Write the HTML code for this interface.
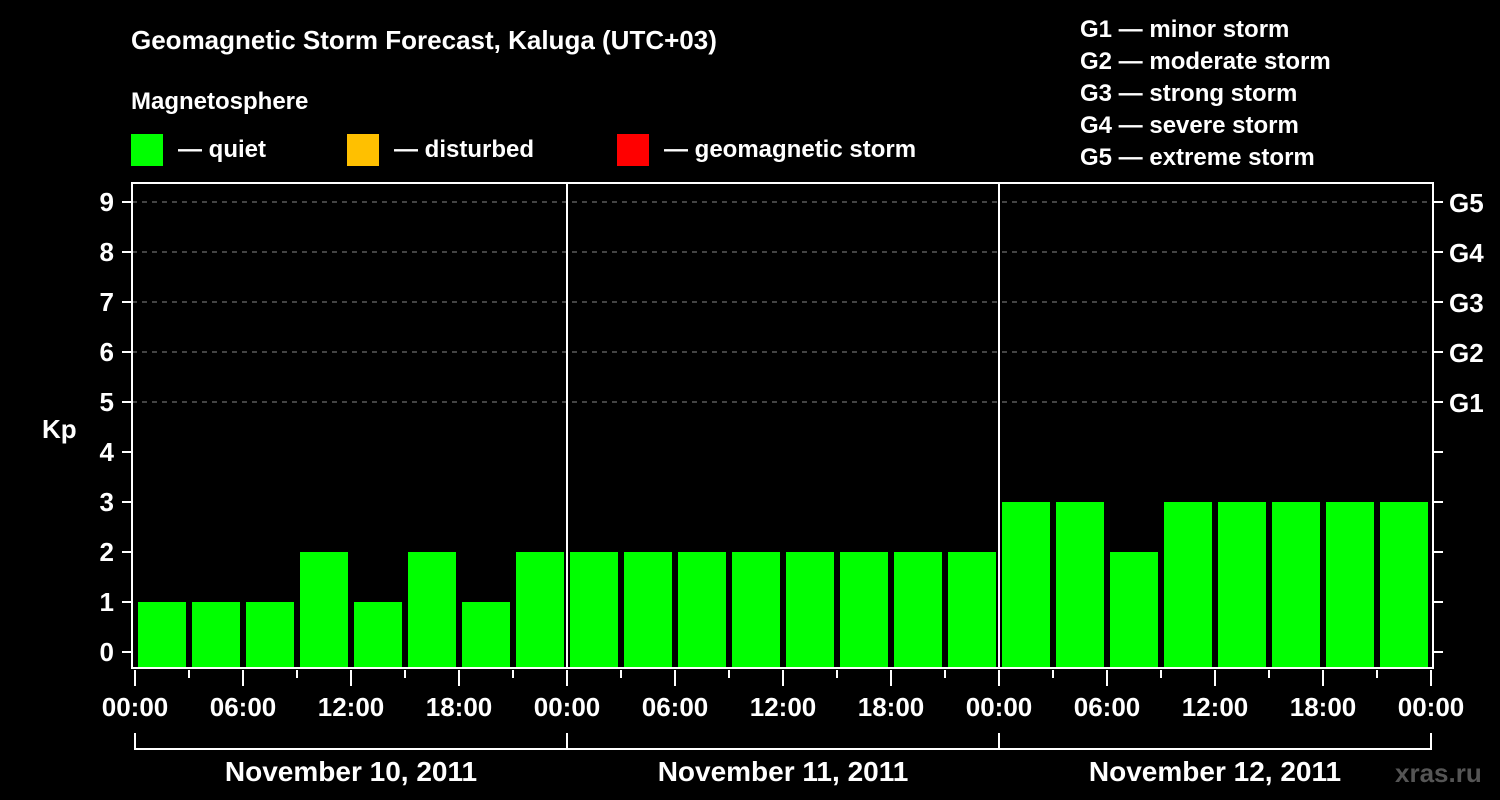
<!DOCTYPE html>
<html><head><meta charset="utf-8"><style>
html,body{margin:0;padding:0;background:#000;}
svg{display:block;font-family:"Liberation Sans",sans-serif;font-weight:bold;}
</style></head><body>
<svg id="chart" width="1500" height="800" viewBox="0 0 1500 800">
<rect width="1500" height="800" fill="#000"/>
<text x="131" y="49" fill="#fff" font-size="26">Geomagnetic Storm Forecast, Kaluga (UTC+03)</text>
<text x="131" y="109" fill="#fff" font-size="24">Magnetosphere</text>
<g><rect x="131" y="134" width="32" height="32" fill="#00ff00"/><text x="178" y="157" fill="#fff" font-size="24">— quiet</text></g>
<g><rect x="347" y="134" width="32" height="32" fill="#ffc000"/><text x="394" y="157" fill="#fff" font-size="24">— disturbed</text></g>
<g><rect x="617" y="134" width="32" height="32" fill="#ff0000"/><text x="664" y="157" fill="#fff" font-size="24">— geomagnetic storm</text></g>
<g fill="#fff" font-size="24">
<text x="1080" y="37">G1 — minor storm</text>
<text x="1080" y="69">G2 — moderate storm</text>
<text x="1080" y="101">G3 — strong storm</text>
<text x="1080" y="133">G4 — severe storm</text>
<text x="1080" y="165">G5 — extreme storm</text>
</g>
<text x="42" y="438" fill="#fff" font-size="26">Kp</text>
<g id="grid"></g><g id="bars"></g><g id="axes"></g>
<text x="1395" y="782" fill="#555" font-size="26">xras.ru</text>
</svg>
<script>
const kpValues = [1,1,1,2,1,2,1,2, 2,2,2,2,2,2,2,2, 3,3,2,3,3,3,3,3];
const dayLabels = ["November 10, 2011","November 11, 2011","November 12, 2011"];
const hourLabels = ["00:00","06:00","12:00","18:00"];
const gLabels = ["G1","G2","G3","G4","G5"];
const yTicks = [0,1,2,3,4,5,6,7,8,9];

const NS="http://www.w3.org/2000/svg";
const x0=135, slot=54, plotL=132, plotR=1433, plotT=183, plotB=668;
const y=v=>652-v*50;
const x=i=>x0+i*slot;
function mk(tag,parent,attrs,txt){const e=document.createElementNS(NS,tag);for(const k in attrs)e.setAttribute(k,attrs[k]);if(txt!==undefined)e.textContent=txt;document.getElementById(parent).appendChild(e);return e;}
function col(v){return v>=5?"#ff0000":(v>=4?"#ffc000":"#00ff00");}

yTicks.forEach(v=>{if(v>=5){const l=mk('line','grid',{x1:plotL,x2:plotR,y1:y(v),y2:y(v),stroke:'#888','stroke-dasharray':'5,5','stroke-width':1});

}});

kpValues.forEach((v,i)=>{const r=mk('rect','bars',{x:x(i)+3,y:y(v),width:48,height:plotB-y(v),fill:col(v)});

});

const f=mk('rect','axes',{x:plotL,y:plotT,width:plotR-plotL,height:plotB-plotT,fill:'none',stroke:'#fff','stroke-width':2});


for(let d=1;d<dayLabels.length;d++){const l=mk('line','axes',{x1:x(d*8),x2:x(d*8),y1:plotT,y2:plotB,stroke:'#fff','stroke-width':2});

}
yTicks.forEach(v=>{mk('line','axes',{x1:122,x2:plotL,y1:y(v),y2:y(v),stroke:'#fff','stroke-width':2});
mk('line','axes',{x1:plotR,x2:plotR+10,y1:y(v),y2:y(v),stroke:'#fff','stroke-width':2});
const t=mk('text','axes',{x:114,y:y(v)+9,fill:'#fff','font-size':26,'text-anchor':'end'},String(v));

});
gLabels.forEach((g,i)=>{const t=mk('text','axes',{x:1449,y:y(5+i)+10,fill:'#fff','font-size':26},g);

});
for(let i=0;i<=kpValues.length;i++){const major=i%2===0;mk('line','axes',{x1:x(i),x2:x(i),y1:plotB+2,y2:major?686:678,stroke:'#fff','stroke-width':2});
if(major){const t=mk('text','axes',{x:x(i),y:716,fill:'#fff','font-size':26,'text-anchor':'middle'},hourLabels[(i/2)%4]);

}}
dayLabels.forEach((d,k)=>{const a=x(k*8),b=x(k*8+8);
mk('path','axes',{d:`M${a},733V749H${b}V733`,fill:'none',stroke:'#fff','stroke-width':2});
const t=mk('text','axes',{x:(a+b)/2,y:781,fill:'#fff','font-size':28,'text-anchor':'middle'},d);

});
</script>
</body></html>
